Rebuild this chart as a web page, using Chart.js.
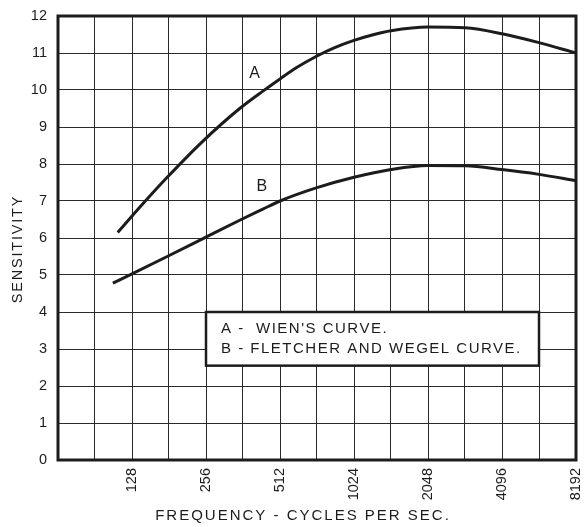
<!DOCTYPE html>
<html>
<head>
<meta charset="utf-8">
<script src="https://cdn.jsdelivr.net/npm/chart.js@4.4.1/dist/chart.umd.min.js"></script>
<style>
  html, body { margin: 0; padding: 0; background: #fff; }
  #wrap { width: 586px; height: 527px; }
</style>
</head>
<body>
<div id="wrap"><canvas id="chart" width="586" height="527"></canvas></div>
<script>
// frequency grid (half octaves) and labelled frequencies
const gridFreqs = [64, 90.5, 128, 181, 256, 362, 512, 724, 1024, 1448, 2048, 2896, 4096, 5793, 8192];
const labelFreqs = [128, 256, 512, 1024, 2048, 4096, 8192];
const sensTicks = [0, 1, 2, 3, 4, 5, 6, 7, 8, 9, 10, 11, 12];

// A - Wien's curve
const freqA = [112, 142, 178, 247, 351, 436, 512, 596, 724, 850, 1024, 1236, 1448, 2048, 2896, 4096, 5793, 8192];
const sensA = [6.15, 6.93, 7.64, 8.6, 9.5, 9.97, 10.3, 10.6, 10.92, 11.14, 11.34, 11.5, 11.6, 11.7, 11.68, 11.52, 11.28, 11.0];

// B - Fletcher and Wegel curve
const freqB = [107, 128, 178, 250, 351, 436, 512, 724, 1024, 1448, 2048, 2896, 4096, 5793, 8192];
const sensB = [4.78, 5.03, 5.5, 5.99, 6.48, 6.78, 7.0, 7.36, 7.64, 7.85, 7.96, 7.95, 7.85, 7.72, 7.55];

const legendLines = ["A -  WIEN'S CURVE.", 'B - FLETCHER AND WEGEL CURVE.'];
const ink = '#1c1c1c';
const font = '"Liberation Sans", Arial, sans-serif';

// where the curve letters and the legend box sit, in data units
const curveLetters = [
    { text: 'A', x: 404, y: 10.45 },
    { text: 'B', x: 432, y: 7.4 }
];
const legendBox = { x1: 256, x2: 5793, y1: 4.0, y2: 2.55 };

const paperPlugin = {
    id: 'paper',
    afterDatasetsDraw(chart) {
        const { ctx, chartArea: a, scales: { x, y } } = chart;
        ctx.save();

        // frame
        ctx.strokeStyle = ink;
        ctx.lineWidth = 3;
        ctx.strokeRect(a.left, a.top, a.right - a.left, a.bottom - a.top);

        // curve letters
        ctx.fillStyle = ink;
        ctx.font = '16px ' + font;
        ctx.textAlign = 'center';
        ctx.textBaseline = 'middle';
        curveLetters.forEach(l => ctx.fillText(l.text, x.getPixelForValue(l.x), y.getPixelForValue(l.y)));

        // legend box
        const bx1 = x.getPixelForValue(legendBox.x1);
        const bx2 = x.getPixelForValue(legendBox.x2);
        const by1 = y.getPixelForValue(legendBox.y1);
        const by2 = y.getPixelForValue(legendBox.y2);
        ctx.fillStyle = '#fff';
        ctx.fillRect(bx1, by1, bx2 - bx1, by2 - by1);
        ctx.lineWidth = 2.5;
        ctx.strokeRect(bx1, by1, bx2 - bx1, by2 - by1);
        ctx.fillStyle = ink;
        ctx.font = '15px ' + font;
        ctx.letterSpacing = '1.5px';
        ctx.textAlign = 'left';
        legendLines.forEach((t, i) => ctx.fillText(t, bx1 + 15, by1 + 17 + i * 20));

        // axis titles
        ctx.font = '15px ' + font;
        ctx.letterSpacing = '2px';
        ctx.textAlign = 'center';
        ctx.fillText('FREQUENCY - CYCLES PER SEC.', 303, 516);
        ctx.font = '14.5px ' + font;
        ctx.letterSpacing = '1.8px';
        ctx.translate(18, 249);
        ctx.rotate(-Math.PI / 2);
        ctx.fillText('SENSITIVITY', 0, 0);
        ctx.restore();
    }
};

const lineStyle = {
    borderColor: ink,
    borderWidth: 3,
    pointRadius: 0,
    fill: false,
    cubicInterpolationMode: 'monotone'
};

new Chart(document.getElementById('chart'), {
    type: 'line',
    data: {
        datasets: [
            { label: 'A', data: freqA.map((f, i) => ({ x: f, y: sensA[i] })), ...lineStyle },
            { label: 'B', data: freqB.map((f, i) => ({ x: f, y: sensB[i] })), ...lineStyle }
        ]
    },
    options: {
        responsive: false,
        animation: false,
        layout: { padding: { top: 16, right: 10, left: 0, bottom: 0 } },
        plugins: { legend: { display: false }, tooltip: { enabled: false } },
        scales: {
            x: {
                type: 'logarithmic',
                min: 64,
                max: 8192,
                afterBuildTicks: s => { s.ticks = gridFreqs.map(v => ({ value: v })); },
                afterFit: s => { s.height = 67; s.paddingLeft = 0; s.paddingRight = 0; },
                grid: { color: '#2a2a2a', lineWidth: 1, drawTicks: false },
                border: { display: false },
                ticks: {
                    autoSkip: false,
                    maxRotation: 90,
                    minRotation: 90,
                    padding: 8,
                    color: ink,
                    font: { size: 14.5, family: font },
                    callback: v => labelFreqs.includes(v) ? String(v) : ''
                }
            },
            y: {
                min: 0,
                max: 12,
                afterBuildTicks: s => { s.ticks = sensTicks.map(v => ({ value: v })); },
                afterFit: s => { s.width = 58; s.paddingTop = 0; s.paddingBottom = 0; },
                grid: { color: '#2a2a2a', lineWidth: 1, drawTicks: false },
                border: { display: false },
                ticks: {
                    padding: 11,
                    color: ink,
                    font: { size: 14.5, family: font }
                }
            }
        }
    },
    plugins: [paperPlugin]
});
</script>
</body>
</html>
